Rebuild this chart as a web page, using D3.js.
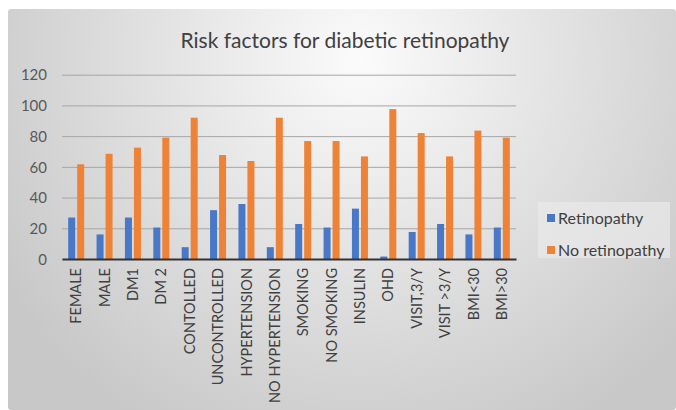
<!DOCTYPE html>
<html>
<head>
<meta charset="utf-8">
<script src="https://cdn.jsdelivr.net/npm/d3@7"></script>
<style>
  html, body { margin: 0; padding: 0; background: #fff; }
  svg { display: block; }
</style>
</head>
<body>
<svg id="chart" width="676" height="410"></svg>
<script>
// Risk factor groups and the share of patients with / without retinopathy
const categories = ["FEMALE", "MALE", "DM1", "DM 2", "CONTOLLED", "UNCONTROLLED",
  "HYPERTENSION", "NO HYPERTENSION", "SMOKING", "NO SMOKING", "INSULIN", "OHD",
  "VISIT,3/Y", "VISIT >3/Y", "BMI<30", "BMI>30"];
const retinopathy   = [27, 16, 27, 20.5, 7.7, 31.8, 35.8, 7.7, 22.8, 20.5, 32.8, 1.6, 17.6, 22.8, 16, 20.5];
const noRetinopathy = [61.7, 68.5, 72.5, 79, 92, 67.7, 63.8, 92, 76.8, 76.8, 66.8, 97.6, 82, 66.8, 83.6, 79];
const seriesNames = ["Retinopathy", "No retinopathy"];
const seriesColors = ["#4a78c8", "#ee8236"];
const yTicks = [0, 20, 40, 60, 80, 100, 120];

const svg = d3.select("#chart");
const W = 676, H = 410;

// Chart area background with soft radial shading
const defs = svg.append("defs");
const grad = defs.append("radialGradient")
  .attr("id", "bg").attr("gradientUnits", "userSpaceOnUse")
  .attr("cx", 360).attr("cy", 60).attr("r", 420)
  .attr("fx", 360).attr("fy", 60);
grad.append("stop").attr("offset", "0%").attr("stop-color", "#fbfbfb");
grad.append("stop").attr("offset", "45%").attr("stop-color", "#e4e4e4");
grad.append("stop").attr("offset", "100%").attr("stop-color", "#c8c8c8");

svg.append("rect")
  .attr("x", 8).attr("y", 9).attr("width", W - 8).attr("height", H - 9)
  .attr("rx", 3).attr("fill", "url(#bg)");

const font = "Lato, 'Open Sans', sans-serif";

svg.append("text")
  .attr("x", 345).attr("y", 48)
  .attr("text-anchor", "middle")
  .attr("font-family", font).attr("font-size", 21)
  .attr("fill", "#404040")
  .text("Risk factors for diabetic retinopathy");

const plot = { left: 62, right: 516, top: 74.7, bottom: 259 };

const x = d3.scaleBand().domain(categories).range([plot.left, plot.right]).paddingInner(0).paddingOuter(0);
const y = d3.scaleLinear().domain([0, 120]).range([plot.bottom, plot.top]);

// Gridlines
const yAxis = d3.axisLeft(y).tickValues(yTicks).tickSize(-(plot.right - plot.left)).tickPadding(15);
const gy = svg.append("g").attr("transform", `translate(${plot.left},0)`).call(yAxis);
gy.select(".domain").remove();
gy.selectAll(".tick line").attr("stroke", "#a6a6a6").attr("stroke-width", 1);
gy.selectAll(".tick text")
  .attr("font-family", font).attr("font-size", 15).attr("fill", "#595959")
  .attr("dy", "0.35em");

// Bars
const barW = 7, barGap = 2;
const groupW = barW * 2 + barGap;
const series = [retinopathy, noRetinopathy];
series.forEach((vals, si) => {
  svg.append("g").selectAll("rect")
    .data(categories)
    .join("rect")
    .attr("x", (c) => x(c) + (x.bandwidth() - groupW) / 2 + si * (barW + barGap))
    .attr("y", (c, i) => y(vals[i]))
    .attr("width", barW)
    .attr("height", (c, i) => y(0) - y(vals[i]))
    .attr("fill", seriesColors[si]);
});

// Category axis
const xAxis = d3.axisBottom(x).tickSize(0).tickPadding(8);
const gx = svg.append("g").attr("transform", `translate(0,${plot.bottom})`).call(xAxis);
gx.select(".domain").attr("stroke", "#333").attr("stroke-width", 2.2);
gx.selectAll(".tick text")
  .attr("font-family", font).attr("font-size", 14.5).attr("fill", "#404040")
  .attr("transform", "rotate(-90)")
  .attr("text-anchor", "end")
  .attr("x", -9).attr("y", 0).attr("dy", "0.35em");

// Legend
const lg = svg.append("g").attr("transform", "translate(538,202)");
lg.append("rect").attr("width", 132).attr("height", 56)
  .attr("fill", "#e9e9e9").attr("opacity", 0.7);
seriesNames.forEach((name, i) => {
  const row = lg.append("g").attr("transform", `translate(9,${16 + i * 32})`);
  row.append("rect").attr("x", 0).attr("y", -4).attr("width", 8).attr("height", 8)
    .attr("fill", seriesColors[i]);
  row.append("text").attr("x", 11).attr("y", 0).attr("dy", "0.35em")
    .attr("font-family", font).attr("font-size", 16).attr("fill", "#404040")
    .text(name);
});
</script>
</body>
</html>
